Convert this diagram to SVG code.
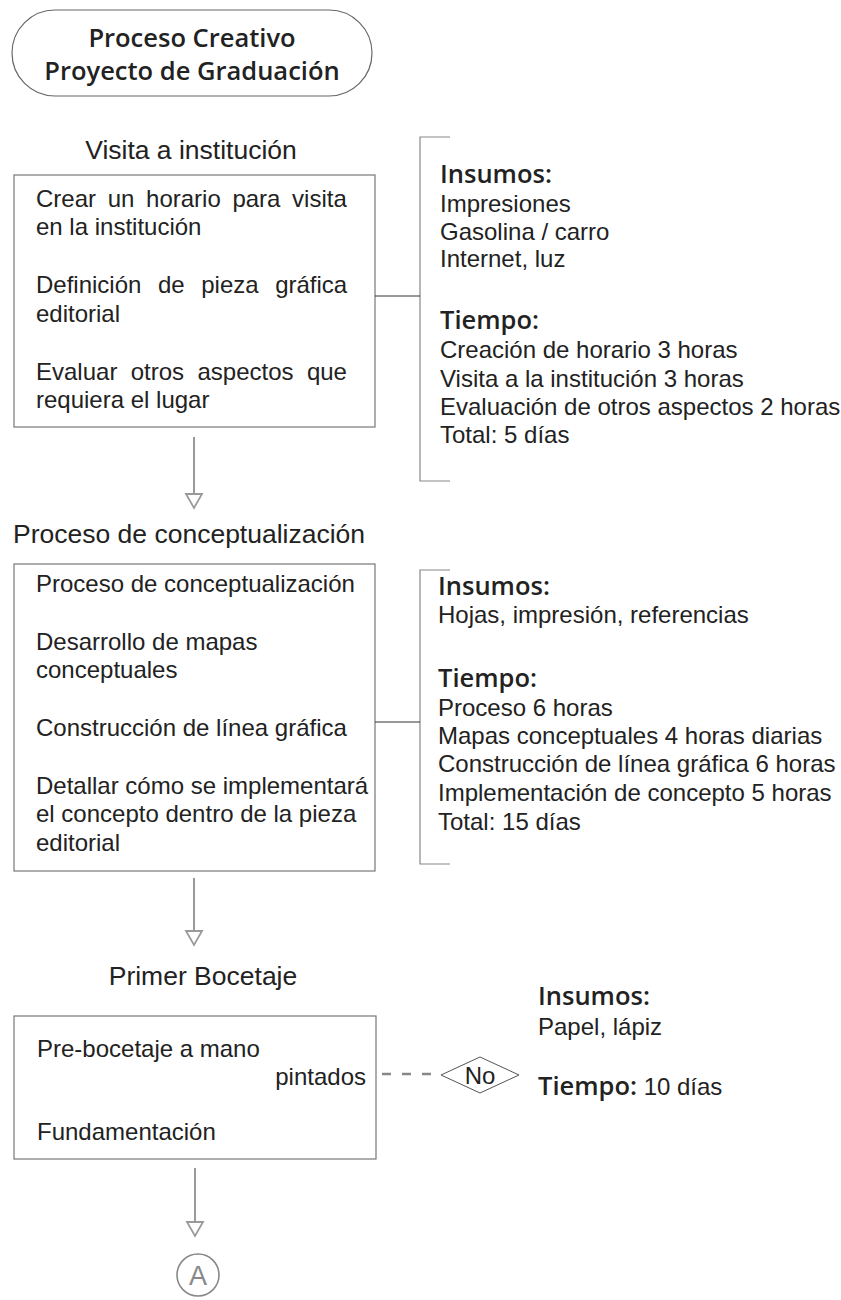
<svg xmlns="http://www.w3.org/2000/svg" width="841" height="1300" viewBox="0 0 841 1300">
<style>
  .body { font-family: "Liberation Sans", Arial, sans-serif; font-size: 24px; fill: #222; }
  .head { font-family: "Liberation Sans", Arial, sans-serif; font-size: 26.5px; fill: #222; }
  .bold { font-family: "Open Sans", "Lato", sans-serif; font-weight: 600; font-size: 25.5px; fill: #222; }
  .title { font-family: "Open Sans", "Lato", sans-serif; font-weight: 600; font-size: 25.5px; fill: #222; }
  .box { fill: #fff; stroke: #777; stroke-width: 1.2; }
  .link { stroke: #333; stroke-width: 1; fill: none; }
  .bracket { stroke: #888; stroke-width: 1.2; fill: none; }
  .arrow { stroke: #9a9a9a; stroke-width: 2; fill: none; }
  .head-tri { stroke: #9a9a9a; stroke-width: 1.8; fill: #fff; }
</style>
<rect width="841" height="1300" fill="#fff"/>

<g id="title">
  <rect x="12" y="10" width="360" height="86" rx="43" ry="43" fill="#fff" stroke="#666" stroke-width="1.2"/>
  <text class="title" x="192" y="47" text-anchor="middle">Proceso Creativo</text>
  <text class="title" x="192" y="80" text-anchor="middle">Proyecto de Graduación</text>
</g>

<g id="step1">
  <text class="head" x="191" y="159" text-anchor="middle">Visita a institución</text>
  <rect class="box" x="14" y="175" width="361" height="252"/>
  <text class="body" x="36" y="207" word-spacing="5">Crear un horario para visita</text>
  <text class="body" x="36" y="235">en la institución</text>
  <text class="body" x="36" y="293" word-spacing="9.9">Definición de pieza gráfica</text>
  <text class="body" x="36" y="322">editorial</text>
  <text class="body" x="36" y="380" word-spacing="6.7">Evaluar otros aspectos que</text>
  <text class="body" x="36" y="408">requiera el lugar</text>
</g>

<g id="info1">
  <path class="bracket" d="M450,137 H420 V481 H450"/>
  <text class="bold" x="440" y="183">Insumos:</text>
  <text class="body" x="440" y="212">Impresiones</text>
  <text class="body" x="440" y="240">Gasolina / carro</text>
  <text class="body" x="440" y="267">Internet, luz</text>
  <text class="bold" x="440" y="329">Tiempo:</text>
  <text class="body" x="440" y="358">Creación de horario 3 horas</text>
  <text class="body" x="440" y="387">Visita a la institución 3 horas</text>
  <text class="body" x="440" y="415">Evaluación de otros aspectos 2 horas</text>
  <text class="body" x="440" y="443">Total: 5 días</text>
</g>

<g id="step2">
  <text class="head" x="13" y="543">Proceso de conceptualización</text>
  <rect class="box" x="14" y="564" width="361" height="307"/>
  <text class="body" x="36" y="592">Proceso de conceptualización</text>
  <text class="body" x="36" y="650">Desarrollo de mapas</text>
  <text class="body" x="36" y="678">conceptuales</text>
  <text class="body" x="36" y="736">Construcción de línea gráfica</text>
  <text class="body" x="36" y="794">Detallar cómo se implementará</text>
  <text class="body" x="36" y="822">el concepto dentro de la pieza</text>
  <text class="body" x="36" y="851">editorial</text>
</g>

<g id="info2">
  <path class="bracket" d="M450,570 H420 V864 H450"/>
  <text class="bold" x="438" y="595">Insumos:</text>
  <text class="body" x="438" y="623">Hojas, impresión, referencias</text>
  <text class="bold" x="438" y="687">Tiempo:</text>
  <text class="body" x="438" y="716">Proceso 6 horas</text>
  <text class="body" x="438" y="744">Mapas conceptuales 4 horas diarias</text>
  <text class="body" x="438" y="772">Construcción de línea gráfica 6 horas</text>
  <text class="body" x="438" y="801">Implementación de concepto 5 horas</text>
  <text class="body" x="438" y="830">Total: 15 días</text>
</g>

<g id="step3">
  <text class="head" x="203" y="985" text-anchor="middle">Primer Bocetaje</text>
  <rect class="box" x="14" y="1016" width="362" height="143"/>
  <text class="body" x="37" y="1057">Pre-bocetaje a mano</text>
  <text class="body" x="366" y="1085" text-anchor="end">pintados</text>
  <text class="body" x="37" y="1140">Fundamentación</text>
</g>

<g id="decision-no">
  <polygon points="441,1075 480,1057 519,1075 480,1093" fill="#fff" stroke="#555" stroke-width="1"/>
  <text class="body" x="480" y="1084" text-anchor="middle">No</text>
</g>

<g id="info3">
  <text class="bold" x="538" y="1005">Insumos:</text>
  <text class="body" x="538" y="1035">Papel, lápiz</text>
  <text class="body" x="538" y="1095"><tspan class="bold">Tiempo:</tspan> 10 días</text>
</g>

<g id="connector-A">
  <circle cx="198" cy="1275" r="21" fill="#fff" stroke="#888" stroke-width="1.6"/>
  <text x="198" y="1285" text-anchor="middle" font-family="Liberation Sans, Arial, sans-serif" font-size="27" fill="#888">A</text>
</g>

<g id="connectors">
  <line class="link" x1="375" y1="296" x2="420" y2="296"/>
  <line class="link" x1="375" y1="722" x2="420" y2="722"/>
  <line x1="382" y1="1074" x2="432" y2="1074" stroke="#888" stroke-width="2.5" stroke-dasharray="9,11"/>
  <line class="arrow" x1="194" y1="437" x2="194" y2="494"/>
  <polygon class="head-tri" points="186,494 202,494 194,508"/>
  <line class="arrow" x1="194" y1="878" x2="194" y2="931"/>
  <polygon class="head-tri" points="186,931 202,931 194,945"/>
  <line class="arrow" x1="195" y1="1168" x2="195" y2="1222"/>
  <polygon class="head-tri" points="187,1222 203,1222 195,1236"/>
</g>
</svg>
